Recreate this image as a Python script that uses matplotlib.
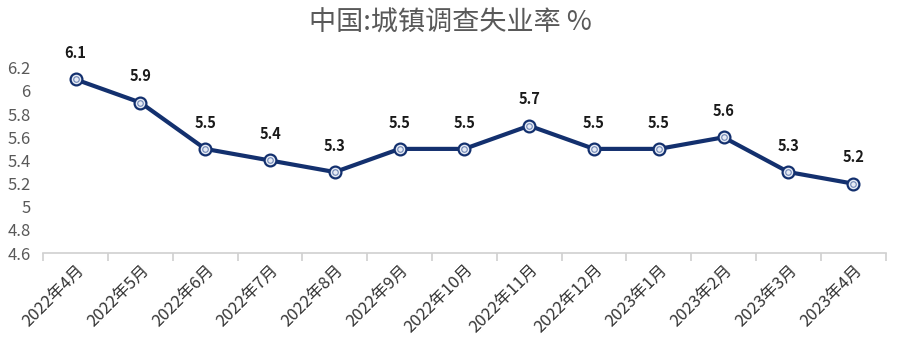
import matplotlib
matplotlib.use('Agg')
import matplotlib.pyplot as plt

plt.rcParams['font.family'] = ['Noto Sans CJK SC', 'DejaVu Sans']

# Data
months = ['2022年4月', '2022年5月', '2022年6月', '2022年7月', '2022年8月', '2022年9月',
          '2022年10月', '2022年11月', '2022年12月', '2023年1月', '2023年2月', '2023年3月',
          '2023年4月']
rates = [6.1, 5.9, 5.5, 5.4, 5.3, 5.5, 5.5, 5.7, 5.5, 5.5, 5.6, 5.3, 5.2]
yticks = [4.6, 4.8, 5, 5.2, 5.4, 5.6, 5.8, 6, 6.2]
ytick_labels = ['4.6', '4.8', '5', '5.2', '5.4', '5.6', '5.8', '6', '6.2']

navy = '#13306e'
grey = '#595959'

fig = plt.figure(figsize=(9, 3.57), dpi=100)
ax = fig.add_axes([0.048, 0.291, 0.936, 0.519])

x = list(range(len(months)))
ax.plot(x, rates, color=navy, lw=3, marker='o', ms=8.5, mfc='#e6ebf5', mec=navy,
        mew=1.6, clip_on=False, zorder=3)
ax.plot(x, rates, ls='none', marker='o', ms=4, mfc='none', mec='#6f86b5', mew=0.8,
        clip_on=False, zorder=4)

for xi, v in zip(x, rates):
    ax.annotate(f'{v:.1f}', (xi, v), xytext=(0, 19), textcoords='offset points',
                ha='center', va='center', fontsize=10.5, fontweight='bold', color='#1a1a1a',
                annotation_clip=False)

ax.set_xlim(-0.5, len(months) - 0.5)
ax.set_ylim(4.6, 6.2)
ax.set_yticks(yticks)
ax.set_yticklabels(ytick_labels)
ax.set_xticks(x)
ax.set_xticklabels(months, rotation=45, ha='right', rotation_mode='anchor')
ax.set_xticks([i - 0.5 for i in range(len(months) + 1)], minor=True)

for s in ['top', 'right', 'left']:
    ax.spines[s].set_visible(False)
ax.spines['bottom'].set_color('#d0d0d0')
ax.spines['bottom'].set_linewidth(1.2)

ax.tick_params(axis='y', length=0, labelsize=12, labelcolor=grey, pad=9)
ax.tick_params(axis='x', which='major', length=0, labelsize=12, labelcolor='#333333', pad=6)
ax.tick_params(axis='x', which='minor', length=6, color='#d0d0d0', width=1.2)

fig.text(0.5, 0.935, '中国:城镇调查失业率 %', ha='center', va='center', fontsize=19.5, color=grey)

fig.savefig('out.png', dpi=100, facecolor='white')
